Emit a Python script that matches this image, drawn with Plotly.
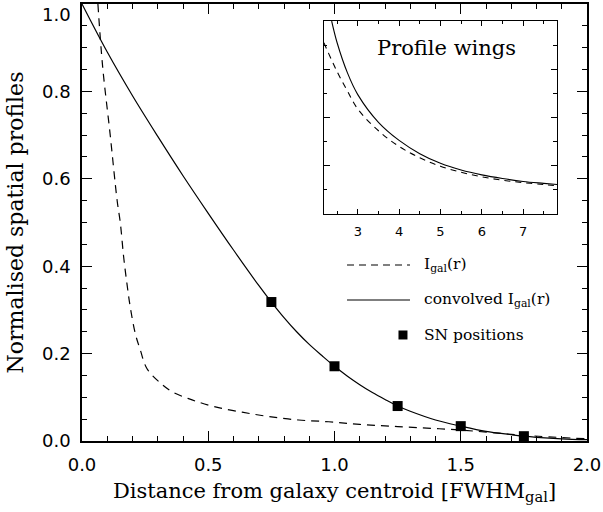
import plotly.graph_objects as go

# ---------------- main panel data ----------------
conv_x = [0.0, 0.1, 0.2, 0.3, 0.4, 0.5, 0.6, 0.7, 0.75, 0.8, 0.85, 0.9, 0.95, 1.0,
          1.05, 1.1, 1.15, 1.2, 1.25, 1.3, 1.4, 1.5, 1.6, 1.7, 1.75, 1.8, 1.9, 2.0]
conv_y = [1.0, 0.89, 0.79, 0.697, 0.607, 0.521, 0.437, 0.356, 0.318, 0.2825, 0.25, 0.221, 0.1955, 0.171,
          0.149, 0.129, 0.111, 0.095, 0.080, 0.068, 0.048, 0.034, 0.022, 0.0145, 0.011, 0.0085, 0.005, 0.003]

gal_x = [0.063, 0.082, 0.111, 0.139, 0.152, 0.165, 0.178, 0.191, 0.211, 0.231, 0.257, 0.304,
         0.356, 0.436, 0.528, 0.634, 0.739, 0.858, 0.977, 1.1, 1.25, 1.5, 1.75, 2.0]
gal_y = [1.0, 0.855, 0.704, 0.551, 0.498, 0.421, 0.36, 0.307, 0.246, 0.208, 0.166, 0.136,
         0.113, 0.094, 0.078, 0.066, 0.056, 0.048, 0.044, 0.038, 0.033, 0.025, 0.013, 0.005]

sn_x = [0.75, 1.0, 1.25, 1.5, 1.75]
sn_y = [0.318, 0.171, 0.080, 0.034, 0.011]

x_tickvals = [0.0, 0.5, 1.0, 1.5, 2.0]
x_ticktext = ["0.0", "0.5", "1.0", "1.5", "2.0"]
y_tickvals = [0.0, 0.2, 0.4, 0.6, 0.8, 1.0]
y_ticktext = ["0.0", "0.2", "0.4", "0.6", "0.8", ""]
y_top_label = "1.0"

# ---------------- inset ("Profile wings") data ----------------
wing_conv_x = [2.368, 2.5, 2.75, 3.0, 3.5, 4.0, 4.5, 5.0, 5.5, 6.0, 6.5, 7.0, 7.5, 7.83]
wing_conv_y = [8.0, 7.1, 5.85, 4.95, 3.8, 3.05, 2.5, 2.1, 1.82, 1.62, 1.47, 1.35, 1.27, 1.22]
wing_gal_x = [2.18, 2.5, 2.75, 3.0, 3.5, 4.0, 4.5, 5.0, 5.5, 6.0, 6.5, 7.0, 7.5, 7.83]
wing_gal_y = [7.1, 5.9, 5.1, 4.35, 3.45, 2.8, 2.33, 1.98, 1.73, 1.54, 1.40, 1.30, 1.22, 1.17]
inset_xticks = [3, 4, 5, 6, 7]

legend_labels = ["I<sub>gal</sub>(r)", "convolved I<sub>gal</sub>(r)", "SN positions"]

SERIF = "DejaVu Serif"
SANS = "DejaVu Sans"

fig = go.Figure()

fig.add_trace(go.Scatter(x=gal_x, y=gal_y, mode="lines", line_shape="spline",
                         line=dict(color="black", width=1.2, dash="8px,6px"),
                         showlegend=False, xaxis="x", yaxis="y"))
fig.add_trace(go.Scatter(x=conv_x, y=conv_y, mode="lines", line_shape="spline",
                         line=dict(color="black", width=1.2),
                         showlegend=False, xaxis="x", yaxis="y"))
fig.add_trace(go.Scatter(x=sn_x, y=sn_y, mode="markers",
                         marker=dict(symbol="square", size=10, color="black"),
                         showlegend=False, xaxis="x", yaxis="y"))

fig.add_trace(go.Scatter(x=wing_gal_x, y=wing_gal_y, mode="lines", line_shape="spline",
                         line=dict(color="black", width=1.1, dash="6px,5px"),
                         showlegend=False, xaxis="x2", yaxis="y2"))
fig.add_trace(go.Scatter(x=wing_conv_x, y=wing_conv_y, mode="lines", line_shape="spline",
                         line=dict(color="black", width=1.1),
                         showlegend=False, xaxis="x2", yaxis="y2"))

axis_common = dict(showgrid=False, zeroline=False, showline=True, linecolor="black",
                   linewidth=1.5, mirror="ticks", ticks="inside", tickcolor="black",
                   tickwidth=1.2)

fig.update_layout(
    width=603, height=512,
    margin=dict(l=82, r=16, t=4, b=71, autoexpand=False),
    paper_bgcolor="white", plot_bgcolor="white",
    font=dict(family=SERIF, color="black"),
    xaxis=dict(domain=[0, 1], range=[0, 2], tickvals=x_tickvals, ticktext=x_ticktext,
               ticklen=10, minor=dict(dtick=0.1, tick0=0, ticklen=5, ticks="inside",
                                      tickcolor="black", tickwidth=1.2),
               tickfont=dict(family=SANS, size=18), ticklabelstandoff=7,
               title=dict(text="Distance from galaxy centroid [FWHM<sub>gal</sub>]",
                          font=dict(family=SERIF, size=21), standoff=9),
               automargin=False, **axis_common),
    yaxis=dict(domain=[0, 1], range=[0, 1], tickvals=y_tickvals, ticktext=y_ticktext,
               ticklen=10, minor=dict(dtick=0.05, tick0=0, ticklen=5, ticks="inside",
                                      tickcolor="black", tickwidth=1.2),
               tickfont=dict(family=SANS, size=18), ticklabelstandoff=6,
               title=dict(text="Normalised spatial profiles",
                          font=dict(family=SERIF, size=22), standoff=12),
               automargin=False, **axis_common),
    xaxis2=dict(domain=[0.479, 0.9406], anchor="y2", range=[2.18, 7.82],
                tickvals=inset_xticks, ticklen=5,
                minor=dict(dtick=0.5, tick0=2.5, ticklen=3, ticks="inside",
                           tickcolor="black", tickwidth=1),
                tickfont=dict(family=SANS, size=13), ticklabelstandoff=5,
                automargin=False,
                **{**axis_common, "linewidth": 1.2, "tickwidth": 1}),
    yaxis2=dict(domain=[0.5195, 0.961], anchor="x2", range=[0, 8],
                tickvals=[2, 4, 6], ticklen=6, showticklabels=False,
                minor=dict(dtick=1, tick0=0, ticklen=3.5, ticks="inside",
                           tickcolor="black", tickwidth=1),
                automargin=False,
                **{**axis_common, "linewidth": 1.2, "tickwidth": 1}),
)

# y = 1.0 label nudged down so it stays inside the page (as in the reference)
fig.add_annotation(text=y_top_label, xref="paper", yref="paper", x=0, y=1,
                   xanchor="right", yanchor="middle", xshift=-9, yshift=-10,
                   showarrow=False, font=dict(family=SANS, size=18))

# inset title
fig.add_annotation(text="Profile wings", xref="x2", yref="y2", x=5.14, y=6.88,
                   showarrow=False, font=dict(family=SERIF, size=21))

# manual legend
lx0, lx1 = 0.5248, 0.6495
ly = [0.4027, 0.3227, 0.2426]
fig.add_shape(type="line", xref="paper", yref="paper", x0=lx0, x1=lx1, y0=ly[0], y1=ly[0],
              line=dict(color="black", width=1.2, dash="7px,5px"))
fig.add_shape(type="line", xref="paper", yref="paper", x0=lx0, x1=lx1, y0=ly[1], y1=ly[1],
              line=dict(color="black", width=1.2))
fig.add_shape(type="rect", xref="paper", yref="paper",
              x0=0.6356 - 0.0089, x1=0.6356 + 0.0089, y0=ly[2] - 0.0103, y1=ly[2] + 0.0103,
              fillcolor="black", line=dict(width=0))
for lab, yy in zip(legend_labels, ly):
    fig.add_annotation(text=lab, xref="paper", yref="paper", x=0.6733, y=yy,
                       xanchor="left", yanchor="middle", showarrow=False,
                       font=dict(family=SERIF, size=15.5))

fig.write_html("out.html")
